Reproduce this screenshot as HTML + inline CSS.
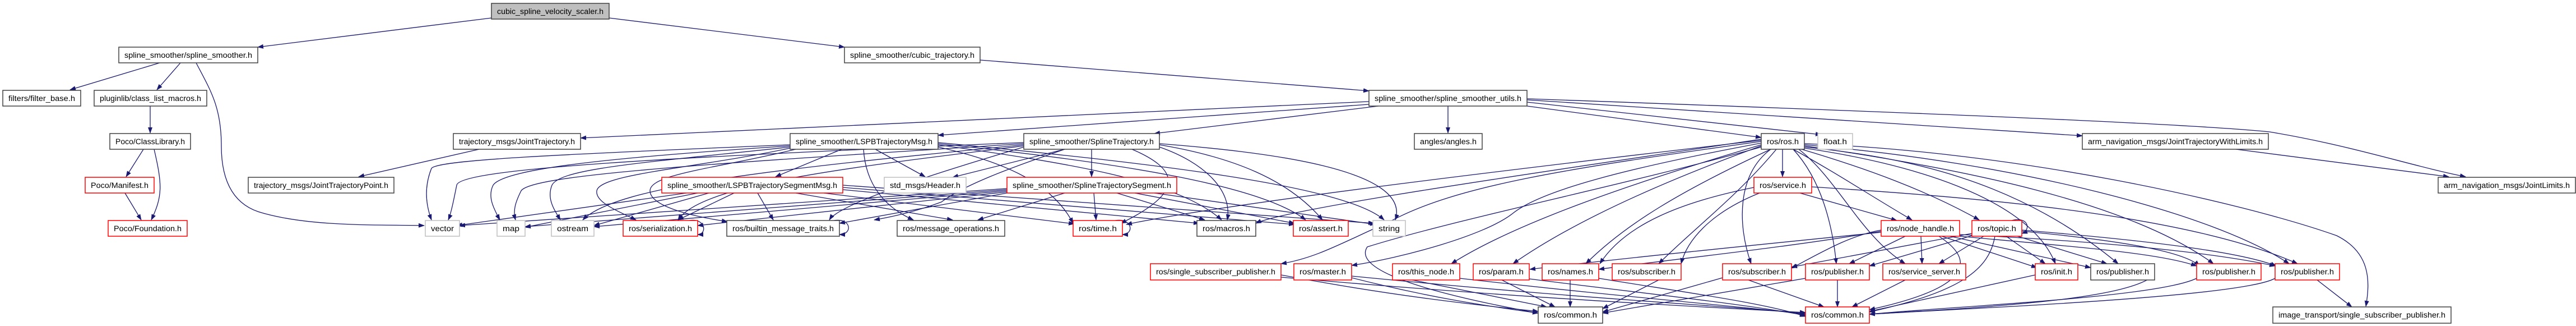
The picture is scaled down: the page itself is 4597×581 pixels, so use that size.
<!DOCTYPE html>
<html><head><meta charset="utf-8"><style>
html,body{margin:0;padding:0;background:#fff;}
svg{display:block;}
text{font-family:"Liberation Sans","DejaVu Sans",sans-serif;font-size:13.5px;fill:#000;}
.e{fill:none;stroke:#191970;stroke-width:1.3;marker-end:url(#a);}
.k{fill:#fff;stroke:#404040;stroke-width:1.5;}
.r{fill:#fff;stroke:#ff0000;stroke-width:1.5;}
.g{fill:#fff;stroke:#bfbfbf;stroke-width:1.5;}
.t{fill:#bfbfbf;stroke:#404040;stroke-width:1.5;}
</style></head><body>
<svg width="4597" height="581" viewBox="0 0 4597 581" xmlns="http://www.w3.org/2000/svg">
<defs><marker id="a" markerUnits="userSpaceOnUse" markerWidth="11" markerHeight="8" refX="10" refY="4" orient="auto"><path d="M0,0 L11,4 L0,8 z" fill="#191970"/></marker></defs>
<g>
<!-- top level -->
<path class="e" d="M877,32 L460,84"/>
<path class="e" d="M1087,32 L1507,84"/>
<path class="e" d="M285,112 L125,160"/>
<path class="e" d="M322,112 L280,160"/>
<path class="e" d="M350,112 C375,160 395,190 395,260 C395,340 430,370 470,380 C560,405 680,400 757,402"/>
<path class="e" d="M268,189 L268,237"/>
<path class="e" d="M256,266 L225,315"/>
<path class="e" d="M275,266 C290,330 290,350 270,392"/>
<path class="e" d="M223,344 L252,392"/>
<path class="e" d="M1749,107 L2443,162"/>
<path class="e" d="M2584,189 L2584,237"/>
<path class="e" d="M2443,181 L1036,246"/>
<path class="e" d="M2443,186 L1674,241"/>
<path class="e" d="M2460,189 L2060,238"/>
<path class="e" d="M2725,189 L3143,245"/>
<path class="e" d="M2725,182 L3250,240"/>
<path class="e" d="M2725,178 L3716,242"/>
<path class="e" d="M2725,176 C3400,200 3900,220 4050,235 C4200,260 4300,295 4400,315"/>
<path class="e" d="M3990,266 L4370,315"/>
<path class="e" d="M855,266 L640,315"/>
<!-- LSPBTrajectoryMsg -->
<path class="e" d="M1502,266 L1384,315"/>
<path class="e" d="M1562,266 L1651,315"/>
<path class="e" d="M1410,258 C1000,275 780,285 770,300 C758,330 758,360 770,392"/>
<path class="e" d="M1410,260 C1100,280 900,300 880,330 C870,350 880,370 892,392"/>
<path class="e" d="M1410,262 C1150,290 1000,300 985,330 C975,355 990,375 1000,392"/>
<path class="e" d="M1410,264 C1240,300 1070,310 1065,340 C1062,360 1100,375 1135,392"/>
<path class="e" d="M1420,266 C1280,300 1160,310 1160,340 C1160,360 1200,380 1298,395"/>
<path class="e" d="M1541,266 C1545,330 1580,370 1630,392"/>
<path class="e" d="M1674,262 C1800,290 1880,330 1915,398"/>
<path class="e" d="M1674,258 C1900,290 2100,320 2180,392"/>
<path class="e" d="M1674,256 C2000,290 2250,330 2330,392"/>
<path class="e" d="M1674,254 C2050,290 2400,330 2470,392"/>
<!-- SplineTrajectory -->
<path class="e" d="M1948,266 L1948,315"/>
<path class="e" d="M1900,266 L1700,316"/>
<path class="e" d="M1827,254 C1200,280 820,300 815,330 C810,355 805,380 800,392"/>
<path class="e" d="M1827,256 C1300,290 950,310 930,340 C920,360 915,375 920,392"/>
<path class="e" d="M1827,258 C1400,300 1100,330 1040,392"/>
<path class="e" d="M1827,260 C1500,300 1250,330 1210,392"/>
<path class="e" d="M1827,262 C1700,300 1500,360 1480,392"/>
<path class="e" d="M1900,266 C1800,300 1720,330 1680,360 C1640,375 1600,385 1560,392"/>
<path class="e" d="M2020,266 C2100,300 2120,340 2000,398"/>
<path class="e" d="M2069,262 C2150,290 2200,340 2190,392"/>
<path class="e" d="M2069,258 C2200,280 2300,320 2360,392"/>
<path class="e" d="M2069,256 C2250,270 2520,300 2490,392"/>
<!-- LSPBTrajectorySegmentMsg -->
<path class="e" d="M1225,344 L815,402"/>
<path class="e" d="M1245,344 L937,405"/>
<path class="e" d="M1265,344 L1060,402"/>
<path class="e" d="M1310,344 L1210,392"/>
<path class="e" d="M1352,344 L1380,392"/>
<path class="e" d="M1420,344 L1700,392"/>
<path class="e" d="M1470,344 L1917,399"/>
<path class="e" d="M1504,338 L2140,398"/>
<path class="e" d="M1504,334 L2310,400"/>
<path class="e" d="M1504,330 L2452,398"/>
<!-- SplineTrajectorySegment -->
<path class="e" d="M1797,336 L820,402"/>
<path class="e" d="M1797,338 L937,404"/>
<path class="e" d="M1797,340 L1060,404"/>
<path class="e" d="M1797,342 L1245,402"/>
<path class="e" d="M1797,344 L1498,398"/>
<path class="e" d="M1900,344 L1745,392"/>
<path class="e" d="M1952,344 L1956,392"/>
<path class="e" d="M1993,344 L2150,392"/>
<path class="e" d="M2025,344 L2310,398"/>
<path class="e" d="M2060,344 L2455,400"/>
<!-- self loops -->
<path class="e" d="M1230,393 C1260,388 1262,418 1245,418"/>
<path class="e" d="M1488,393 C1520,388 1522,418 1498,418"/>
<path class="e" d="M1990,393 C2022,388 2024,418 2003,418"/>
<path class="e" d="M3590,393 C3620,385 3625,410 3608,416"/>
<!-- ros.h -->
<path class="e" d="M3181,266 L3181,315"/>
<path class="e" d="M3200,266 C3280,310 3340,350 3412,392"/>
<path class="e" d="M3215,266 C3330,300 3440,340 3532,392"/>
<path class="e" d="M3160,266 C3100,310 3100,400 3125,470"/>
<path class="e" d="M3200,266 C3250,320 3270,400 3277,470"/>
<path class="e" d="M3210,266 C3280,320 3320,420 3400,470"/>
<path class="e" d="M3220,264 C3400,290 3620,350 3668,470"/>
<path class="e" d="M3220,262 C3400,280 3600,320 3780,470"/>
<path class="e" d="M3220,260 C3500,300 3800,360 3950,470"/>
<path class="e" d="M3220,258 C3600,290 3950,380 4085,470"/>
<path class="e" d="M3220,256 C3600,270 4000,360 4170,420 C4230,450 4230,500 4222,546"/>
<path class="e" d="M3143,252 C2800,300 2600,330 2480,395 C2400,430 2350,460 2286,470"/>
<path class="e" d="M3143,255 C2900,300 2750,340 2700,380 C2650,420 2500,460 2412,473"/>
<path class="e" d="M3143,258 C2900,330 2700,400 2590,470"/>
<path class="e" d="M3143,260 C2950,330 2800,400 2700,470"/>
<path class="e" d="M3160,266 C3000,340 2900,400 2830,470"/>
<path class="e" d="M3170,266 C3100,350 3020,410 2960,470"/>
<path class="e" d="M3143,262 C2900,330 2600,390 2440,440 C2420,470 2480,510 2745,558"/>
<path class="e" d="M3143,250 C2800,290 2200,360 2010,400"/>
<path class="e" d="M3143,248 C2800,300 2300,370 2241,398"/>
<!-- service.h -->
<path class="e" d="M3212,344 L3385,393"/>
<path class="e" d="M3233,333 C3500,350 3900,380 4100,470"/>
<path class="e" d="M3130,334 C3000,360 2900,400 2855,470"/>
<path class="e" d="M3140,344 C3050,380 3010,430 3000,470"/>
<!-- node_handle -->
<path class="e" d="M3357,410 C3300,420 3250,450 3197,478"/>
<path class="e" d="M3400,421 L3300,470"/>
<path class="e" d="M3428,421 L3430,470"/>
<path class="e" d="M3465,421 L3635,477"/>
<path class="e" d="M3480,421 L3731,477"/>
<path class="e" d="M3497,421 C3700,440 3850,450 3920,474"/>
<path class="e" d="M3497,418 C3750,430 3950,450 4060,474"/>
<path class="e" d="M3460,421 C3520,460 3530,510 3336,552"/>
<path class="e" d="M3357,412 C3200,440 3000,460 2853,480"/>
<path class="e" d="M3357,414 C3100,440 2900,460 2730,480"/>
<!-- topic -->
<path class="e" d="M3519,416 L3197,476"/>
<path class="e" d="M3519,420 L3336,474"/>
<path class="e" d="M3540,421 L3460,470"/>
<path class="e" d="M3580,421 L3650,470"/>
<path class="e" d="M3600,421 L3760,470"/>
<path class="e" d="M3608,412 C3800,430 3900,450 3925,474"/>
<path class="e" d="M3608,410 C3850,430 4000,450 4062,474"/>
<path class="e" d="M3560,421 C3550,480 3500,520 3336,556"/>
<!-- row6 to common -->
<path class="e" d="M2286,490 C2500,530 2650,545 2745,555"/>
<path class="e" d="M2286,494 C2700,530 3000,545 3222,557"/>
<path class="e" d="M2412,495 C2550,530 2650,545 2745,558"/>
<path class="e" d="M2412,492 C2800,530 3000,540 3222,558"/>
<path class="e" d="M2520,499 L2760,547"/>
<path class="e" d="M2605,496 C2900,530 3100,545 3222,560"/>
<path class="e" d="M2680,499 L2775,547"/>
<path class="e" d="M2729,497 C2950,525 3100,540 3222,562"/>
<path class="e" d="M2802,499 L2802,547"/>
<path class="e" d="M2853,496 C3000,520 3150,540 3222,564"/>
<path class="e" d="M2960,499 L2860,550"/>
<path class="e" d="M3074,495 L2860,556"/>
<path class="e" d="M3120,499 L3255,547"/>
<path class="e" d="M3222,496 L2860,558"/>
<path class="e" d="M3279,499 L3279,547"/>
<path class="e" d="M3400,499 L3305,547"/>
<path class="e" d="M3632,490 L3336,555"/>
<path class="e" d="M3845,490 C3800,530 3600,545 3336,560"/>
<path class="e" d="M3920,496 C3850,530 3500,545 3336,560"/>
<path class="e" d="M4060,496 C4000,530 3500,550 3336,560"/>
<path class="e" d="M4135,499 L4197,547"/>
</g>
<g>
<rect class="t" x="877" y="6" width="210" height="28"/><text x="887" y="25" textLength="190" lengthAdjust="spacingAndGlyphs">cubic_spline_velocity_scaler.h</text>
<rect class="k" x="212" y="84" width="248" height="28"/><text x="222" y="103" textLength="228" lengthAdjust="spacingAndGlyphs">spline_smoother/spline_smoother.h</text>
<rect class="k" x="1507" y="84" width="242" height="28"/><text x="1517" y="103" textLength="222" lengthAdjust="spacingAndGlyphs">spline_smoother/cubic_trajectory.h</text>
<rect class="k" x="5" y="161" width="139" height="28"/><text x="15" y="180" textLength="119" lengthAdjust="spacingAndGlyphs">filters/filter_base.h</text>
<rect class="k" x="168" y="161" width="201" height="28"/><text x="178" y="180" textLength="181" lengthAdjust="spacingAndGlyphs">pluginlib/class_list_macros.h</text>
<rect class="k" x="2443" y="161" width="282" height="28"/><text x="2453" y="180" textLength="262" lengthAdjust="spacingAndGlyphs">spline_smoother/spline_smoother_utils.h</text>
<rect class="k" x="196" y="238" width="144" height="28"/><text x="206" y="257" textLength="124" lengthAdjust="spacingAndGlyphs">Poco/ClassLibrary.h</text>
<rect class="k" x="809" y="238" width="227" height="28"/><text x="819" y="257" textLength="207" lengthAdjust="spacingAndGlyphs">trajectory_msgs/JointTrajectory.h</text>
<rect class="k" x="1410" y="238" width="264" height="28"/><text x="1420" y="257" textLength="244" lengthAdjust="spacingAndGlyphs">spline_smoother/LSPBTrajectoryMsg.h</text>
<rect class="k" x="1827" y="238" width="242" height="28"/><text x="1837" y="257" textLength="222" lengthAdjust="spacingAndGlyphs">spline_smoother/SplineTrajectory.h</text>
<rect class="k" x="2524" y="238" width="121" height="28"/><text x="2534" y="257" textLength="101" lengthAdjust="spacingAndGlyphs">angles/angles.h</text>
<rect class="k" x="3143" y="238" width="77" height="28"/><text x="3153" y="257" textLength="57" lengthAdjust="spacingAndGlyphs">ros/ros.h</text>
<rect class="g" x="3244" y="238" width="62" height="28"/><text x="3254" y="257" textLength="42" lengthAdjust="spacingAndGlyphs">float.h</text>
<rect class="k" x="3716" y="238" width="332" height="28"/><text x="3726" y="257" textLength="312" lengthAdjust="spacingAndGlyphs">arm_navigation_msgs/JointTrajectoryWithLimits.h</text>
<rect class="r" x="152" y="316" width="123" height="28"/><text x="162" y="335" textLength="103" lengthAdjust="spacingAndGlyphs">Poco/Manifest.h</text>
<rect class="k" x="443" y="316" width="260" height="28"/><text x="453" y="335" textLength="240" lengthAdjust="spacingAndGlyphs">trajectory_msgs/JointTrajectoryPoint.h</text>
<rect class="r" x="1181" y="316" width="323" height="28"/><text x="1191" y="335" textLength="303" lengthAdjust="spacingAndGlyphs">spline_smoother/LSPBTrajectorySegmentMsg.h</text>
<rect class="g" x="1578" y="316" width="146" height="28"/><text x="1588" y="335" textLength="126" lengthAdjust="spacingAndGlyphs">std_msgs/Header.h</text>
<rect class="r" x="1797" y="316" width="303" height="28"/><text x="1807" y="335" textLength="283" lengthAdjust="spacingAndGlyphs">spline_smoother/SplineTrajectorySegment.h</text>
<rect class="r" x="3130" y="316" width="103" height="28"/><text x="3140" y="335" textLength="83" lengthAdjust="spacingAndGlyphs">ros/service.h</text>
<rect class="k" x="4351" y="316" width="245" height="28"/><text x="4361" y="335" textLength="225" lengthAdjust="spacingAndGlyphs">arm_navigation_msgs/JointLimits.h</text>
<rect class="r" x="193" y="393" width="141" height="28"/><text x="203" y="412" textLength="121" lengthAdjust="spacingAndGlyphs">Poco/Foundation.h</text>
<rect class="g" x="759" y="393" width="61" height="28"/><text x="769" y="412" textLength="41" lengthAdjust="spacingAndGlyphs">vector</text>
<rect class="g" x="887" y="393" width="50" height="28"/><text x="897" y="412" textLength="30" lengthAdjust="spacingAndGlyphs">map</text>
<rect class="g" x="984" y="393" width="76" height="28"/><text x="994" y="412" textLength="56" lengthAdjust="spacingAndGlyphs">ostream</text>
<rect class="r" x="1112" y="393" width="133" height="28"/><text x="1122" y="412" textLength="113" lengthAdjust="spacingAndGlyphs">ros/serialization.h</text>
<rect class="k" x="1297" y="393" width="201" height="28"/><text x="1307" y="412" textLength="181" lengthAdjust="spacingAndGlyphs">ros/builtin_message_traits.h</text>
<rect class="k" x="1601" y="393" width="192" height="28"/><text x="1611" y="412" textLength="172" lengthAdjust="spacingAndGlyphs">ros/message_operations.h</text>
<rect class="r" x="1915" y="393" width="88" height="28"/><text x="1925" y="412" textLength="68" lengthAdjust="spacingAndGlyphs">ros/time.h</text>
<rect class="k" x="2136" y="393" width="105" height="28"/><text x="2146" y="412" textLength="85" lengthAdjust="spacingAndGlyphs">ros/macros.h</text>
<rect class="r" x="2308" y="393" width="98" height="28"/><text x="2318" y="412" textLength="78" lengthAdjust="spacingAndGlyphs">ros/assert.h</text>
<rect class="g" x="2450" y="393" width="58" height="28"/><text x="2460" y="412" textLength="38" lengthAdjust="spacingAndGlyphs">string</text>
<rect class="r" x="3357" y="393" width="140" height="28"/><text x="3367" y="412" textLength="120" lengthAdjust="spacingAndGlyphs">ros/node_handle.h</text>
<rect class="r" x="3519" y="393" width="89" height="28"/><text x="3529" y="412" textLength="69" lengthAdjust="spacingAndGlyphs">ros/topic.h</text>
<rect class="r" x="2053" y="470" width="233" height="29"/><text x="2063" y="489" textLength="213" lengthAdjust="spacingAndGlyphs">ros/single_subscriber_publisher.h</text>
<rect class="r" x="2309" y="470" width="103" height="29"/><text x="2319" y="489" textLength="83" lengthAdjust="spacingAndGlyphs">ros/master.h</text>
<rect class="r" x="2485" y="470" width="120" height="29"/><text x="2495" y="489" textLength="100" lengthAdjust="spacingAndGlyphs">ros/this_node.h</text>
<rect class="r" x="2629" y="470" width="100" height="29"/><text x="2639" y="489" textLength="80" lengthAdjust="spacingAndGlyphs">ros/param.h</text>
<rect class="r" x="2752" y="470" width="101" height="29"/><text x="2762" y="489" textLength="81" lengthAdjust="spacingAndGlyphs">ros/names.h</text>
<rect class="r" x="2877" y="470" width="123" height="29"/><text x="2887" y="489" textLength="103" lengthAdjust="spacingAndGlyphs">ros/subscriber.h</text>
<rect class="r" x="3074" y="470" width="123" height="29"/><text x="3084" y="489" textLength="103" lengthAdjust="spacingAndGlyphs">ros/subscriber.h</text>
<rect class="r" x="3222" y="470" width="114" height="29"/><text x="3232" y="489" textLength="94" lengthAdjust="spacingAndGlyphs">ros/publisher.h</text>
<rect class="r" x="3360" y="470" width="148" height="29"/><text x="3370" y="489" textLength="128" lengthAdjust="spacingAndGlyphs">ros/service_server.h</text>
<rect class="r" x="3632" y="470" width="76" height="29"/><text x="3642" y="489" textLength="56" lengthAdjust="spacingAndGlyphs">ros/init.h</text>
<rect class="k" x="3731" y="470" width="114" height="29"/><text x="3741" y="489" textLength="94" lengthAdjust="spacingAndGlyphs">ros/publisher.h</text>
<rect class="r" x="3920" y="470" width="115" height="29"/><text x="3930" y="489" textLength="95" lengthAdjust="spacingAndGlyphs">ros/publisher.h</text>
<rect class="r" x="4060" y="470" width="115" height="29"/><text x="4070" y="489" textLength="95" lengthAdjust="spacingAndGlyphs">ros/publisher.h</text>
<rect class="k" x="2745" y="547" width="115" height="29"/><text x="2755" y="566" textLength="95" lengthAdjust="spacingAndGlyphs">ros/common.h</text>
<rect class="r" x="3222" y="547" width="114" height="29"/><text x="3232" y="566" textLength="94" lengthAdjust="spacingAndGlyphs">ros/common.h</text>
<rect class="k" x="4056" y="547" width="318" height="29"/><text x="4066" y="566" textLength="298" lengthAdjust="spacingAndGlyphs">image_transport/single_subscriber_publisher.h</text>
</g>
</svg>
</body></html>
